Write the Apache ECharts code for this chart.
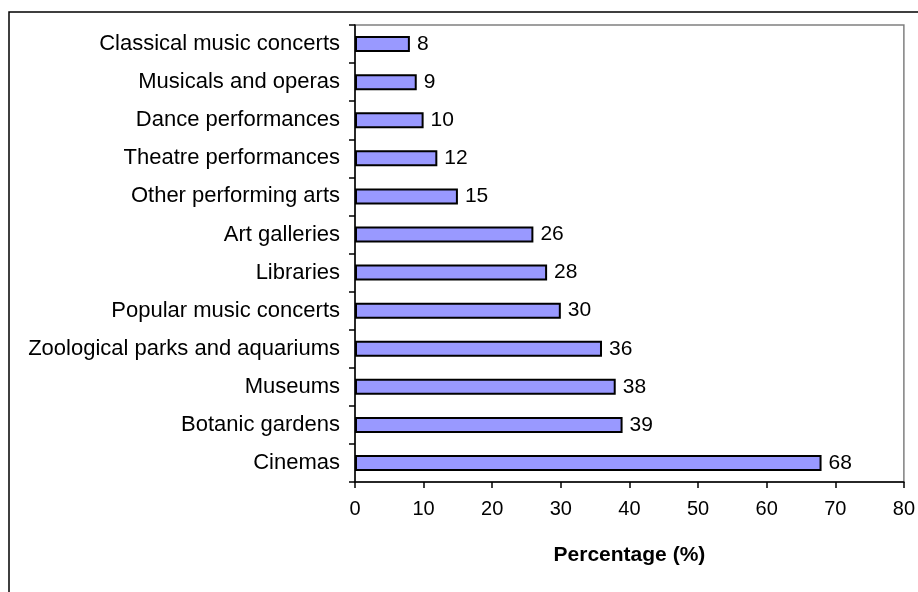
<!DOCTYPE html>
<html>
<head>
<meta charset="utf-8">
<script src="https://cdn.jsdelivr.net/npm/echarts@6/dist/echarts.min.js"></script>
<style>
html,body{margin:0;padding:0;background:#fff;}
#c{width:918px;height:592px;}
</style>
</head>
<body>
<div id="c"></div>
<script>
var categories = ["Cinemas","Botanic gardens","Museums","Zoological parks and aquariums","Popular music concerts","Libraries","Art galleries","Other performing arts","Theatre performances","Dance performances","Musicals and operas","Classical music concerts"];
var values = [68,39,38,36,30,28,26,15,12,10,9,8];
var xTicks = [0,10,20,30,40,50,60,70,80];

var chart = echarts.init(document.getElementById('c'));
var font = 'Liberation Sans, Arial, sans-serif';
chart.setOption({
  animation: false,
  backgroundColor: '#fff',
  graphic: [{
    type: 'rect', silent: true, z: -1,
    shape: {x: 9, y: 12, width: 940, height: 620},
    style: {fill: 'none', stroke: '#000', lineWidth: 1.5}
  }],
  grid: {
    left: 355, top: 25, width: 554, height: 457,
    show: true, borderColor: '#808080', borderWidth: 1.5, backgroundColor: 'transparent'
  },
  xAxis: {
    type: 'value', min: 0, max: 80, interval: 10,
    axisLine: {show: true, lineStyle: {color: '#000', width: 1.5}},
    axisTick: {show: true, length: 6, lineStyle: {color: '#000', width: 1.5}},
    splitLine: {show: false},
    axisLabel: {color: '#000', fontSize: 20, fontFamily: font, margin: 17,
      formatter: function(v){ return xTicks.indexOf(v) >= 0 ? String(v) : ''; }},
    name: 'Percentage (%)', nameLocation: 'middle', nameGap: 63,
    nameTextStyle: {color: '#000', fontSize: 21, fontWeight: 'bold', fontFamily: font}
  },
  yAxis: {
    type: 'category', data: categories, inverse: false,
    axisLine: {show: true, lineStyle: {color: '#000', width: 1.5}},
    axisTick: {show: true, length: 6, alignWithLabel: false, lineStyle: {color: '#000', width: 1.5}},
    axisLabel: {color: '#000', fontSize: 22, fontFamily: font, margin: 15},
    splitLine: {show: false}
  },
  series: [{
    type: 'bar', data: values, barWidth: 16,
    itemStyle: {color: '#9999FF', borderColor: '#000', borderWidth: 2},
    label: {show: true, position: 'right', distance: 7, color: '#000', fontSize: 21, fontFamily: font}
  }]
});
</script>
</body>
</html>
